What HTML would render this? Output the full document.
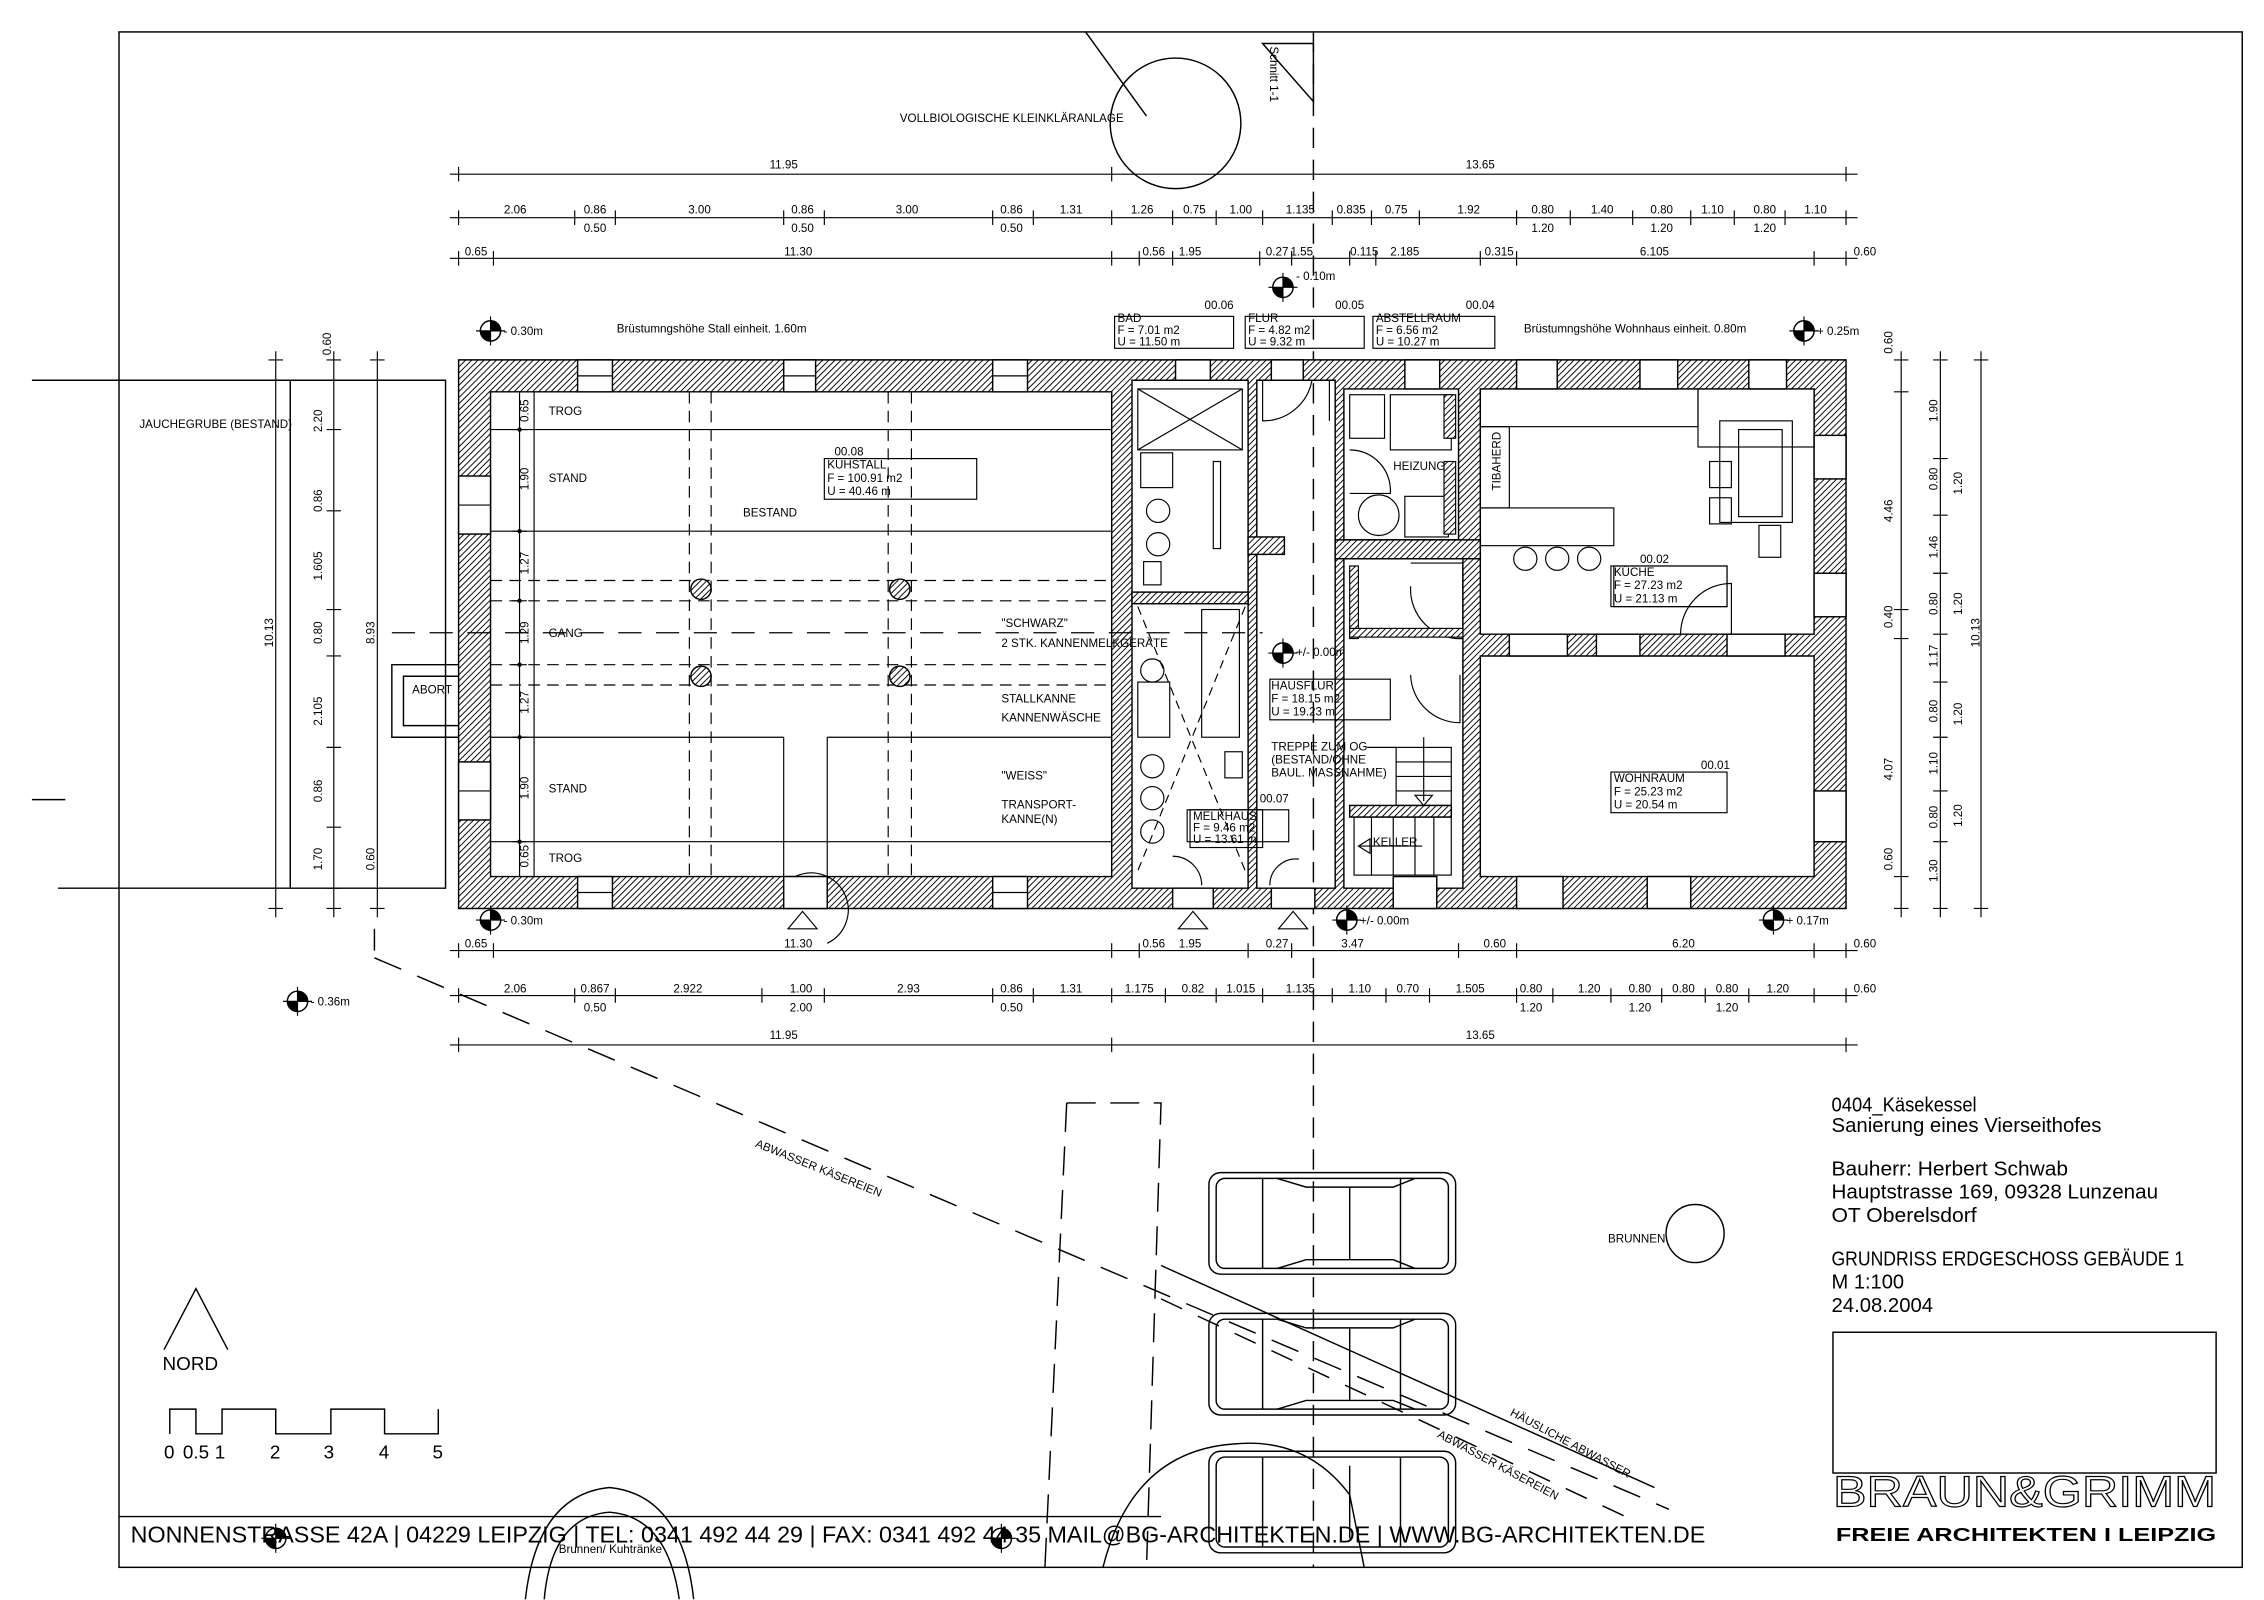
<!DOCTYPE html>
<html><head><meta charset="utf-8"><style>
html,body{margin:0;padding:0;background:#fff}
svg{display:block}
text{font-family:"Liberation Sans",sans-serif;fill:#000}
</style></head><body>
<svg width="2264" height="1600" viewBox="0 0 1560 1102.5" preserveAspectRatio="none" xmlns="http://www.w3.org/2000/svg">
<defs>
<pattern id="h" width="3" height="3" patternUnits="userSpaceOnUse" patternTransform="rotate(45)">
<rect width="3" height="3" fill="#fff"/><line x1="0" y1="0" x2="0" y2="3" stroke="#000" stroke-width="1.3"/></pattern>
<g id="lv"><circle r="7" fill="#fff" stroke="#000" stroke-width="1"/><path d="M0,0 L7,0 A7,7 0 0 0 0,-7Z M0,0 L-7,0 A7,7 0 0 0 0,7Z" fill="#000"/><line x1="-10" y1="0" x2="10" y2="0" stroke="#000" stroke-width=".8"/><line x1="0" y1="-10" x2="0" y2="10" stroke="#000" stroke-width=".8"/></g>
</defs>
<rect width="1560" height="1102.5" fill="#fff"/>
<g fill="none" stroke="#000" stroke-width="1">
<rect x="82" y="22" width="1463" height="1058"/>
<line x1="905" y1="22" x2="905" y2="1080" stroke-dasharray="14,8"/>
<path d="M870,30 L905,30 L905,70 Z" />
<line x1="748" y1="22" x2="790" y2="80"/>
<circle cx="810" cy="85" r="45"/>
<polyline points="22,262 307,262 307,612 40,612"/>
<line x1="200" y1="262" x2="200" y2="612"/>
<line x1="22" y1="551" x2="45" y2="551"/>
<polyline points="316,458 270,458 270,508 316,508"/>
<polyline points="316,466 278,466 278,500 316,500"/>
<line x1="258" y1="660" x2="1150" y2="1040" stroke-dasharray="20,12"/>
<line x1="800" y1="872" x2="1140" y2="1025"/>
<line x1="800" y1="895" x2="1120" y2="1045" stroke-dasharray="16,12"/>
<polyline points="735,760 800,760 790,1080" stroke-dasharray="20,10"/>
<line x1="735" y1="760" x2="720" y2="1080" stroke-dasharray="20,10"/>
<line x1="258" y1="655" x2="258" y2="640"/>
</g>
<g stroke="#000" stroke-width="1">
<path fill-rule="evenodd" fill="url(#h)" d="M316,248 H1272 V626 H316 Z M338,270 V604 H766 V270 Z M780,262 V612 H860 V262 Z M866,262 V612 H920 V262 Z M926,268 V372 H1005 V268Z M1020,268 V437 H1250 V268 Z M1020,452 V604 H1250 V452Z M926,385 V612 H1008 V385Z"/>
<rect x="780" y="408" width="80" height="8" fill="url(#h)"/>
<rect x="860" y="370" width="25" height="12" fill="url(#h)"/>
<rect x="920" y="372" width="100" height="13" fill="url(#h)"/>
<rect x="930" y="555" width="70" height="8" fill="url(#h)"/>
</g>
<g fill="#fff" stroke="#000" stroke-width="1">
<rect x="398" y="248" width="24" height="22"/><rect x="540" y="248" width="22" height="22"/><rect x="684" y="248" width="24" height="22"/>
<rect x="810" y="248" width="24" height="14"/><rect x="876" y="248" width="22" height="14"/><rect x="968" y="248" width="24" height="20"/>
<rect x="1045" y="248" width="28" height="20"/><rect x="1130" y="248" width="26" height="20"/><rect x="1205" y="248" width="26" height="20"/>
<rect x="398" y="604" width="24" height="22"/><rect x="540" y="604" width="30" height="22"/><rect x="684" y="604" width="24" height="22"/>
<rect x="808" y="612" width="28" height="14"/><rect x="876" y="612" width="30" height="14"/><rect x="960" y="604" width="30" height="22"/>
<rect x="1045" y="604" width="32" height="22"/><rect x="1135" y="604" width="30" height="22"/>
<rect x="316" y="328" width="22" height="40"/><rect x="316" y="525" width="22" height="40"/>
<rect x="1250" y="300" width="22" height="30"/><rect x="1250" y="395" width="22" height="30"/><rect x="1250" y="545" width="22" height="35"/>
<rect x="1040" y="437" width="40" height="15"/><rect x="1100" y="437" width="30" height="15"/><rect x="1190" y="437" width="40" height="15"/>
</g>
<g fill="none" stroke="#000" stroke-width=".8">
<line x1="316" y1="348" x2="338" y2="348"/><line x1="316" y1="545" x2="338" y2="545"/>
<line x1="398" y1="259" x2="422" y2="259"/><line x1="540" y1="259" x2="562" y2="259"/><line x1="684" y1="259" x2="708" y2="259"/>
<line x1="398" y1="615" x2="422" y2="615"/><line x1="684" y1="615" x2="708" y2="615"/>
<line x1="368" y1="270" x2="368" y2="604"/>
<line x1="338" y1="296" x2="766" y2="296"/><line x1="338" y1="366" x2="766" y2="366"/>
<line x1="338" y1="508" x2="540" y2="508"/><line x1="570" y1="508" x2="766" y2="508"/>
<line x1="338" y1="580" x2="766" y2="580"/>
<line x1="540" y1="508" x2="540" y2="604"/><line x1="570" y1="508" x2="570" y2="604"/>
<g stroke-dasharray="8,5">
<line x1="338" y1="400" x2="766" y2="400"/><line x1="338" y1="414" x2="766" y2="414"/>
<line x1="338" y1="458" x2="766" y2="458"/><line x1="338" y1="472" x2="766" y2="472"/>
<line x1="475" y1="270" x2="475" y2="604"/><line x1="490" y1="270" x2="490" y2="604"/>
<line x1="612" y1="270" x2="612" y2="604"/><line x1="628" y1="270" x2="628" y2="604"/>
<line x1="270" y1="436" x2="870" y2="436" stroke-dasharray="16,10"/>
</g>
<rect x="784" y="268" width="72" height="42"/><line x1="784" y1="268" x2="856" y2="310"/><line x1="856" y1="268" x2="784" y2="310"/>
<rect x="786" y="312" width="22" height="24"/><rect x="836" y="318" width="5" height="60"/>
<ellipse cx="798" cy="352" rx="8" ry="8"/><ellipse cx="798" cy="375" rx="8" ry="8"/><rect x="788" y="387" width="12" height="16"/>
<line x1="784" y1="418" x2="858" y2="600" stroke-dasharray="6,4"/><line x1="858" y1="418" x2="784" y2="600" stroke-dasharray="6,4"/>
<rect x="828" y="420" width="26" height="88"/><rect x="784" y="470" width="22" height="38"/>
<circle cx="794" cy="462" r="8"/><circle cx="794" cy="528" r="8"/><circle cx="794" cy="550" r="8"/><circle cx="794" cy="573" r="8"/>
<rect x="844" y="518" width="12" height="18"/>
<rect x="818" y="558" width="70" height="22"/>
<path d="M808,590 A20,20 0 0 1 828,610"/><path d="M875,610 A18,18 0 0 1 895,592"/>
<path d="M870,262 V290 A34,34 0 0 0 904,262"/><path d="M916,262 V290"/>
<rect x="930" y="272" width="24" height="30"/><rect x="958" y="272" width="42" height="38"/>
<circle cx="950" cy="355" r="14"/><rect x="968" y="342" width="30" height="28"/>
<path d="M930,310 A28,28 0 0 1 958,340 H930"/>
<rect x="995" y="272" width="8" height="30" fill="url(#h)"/><rect x="995" y="318" width="8" height="50" fill="url(#h)"/>
<path d="M972,388 H1008 V440 A34,34 0 0 1 972,404"/>
<rect x="930" y="390" width="6" height="50" fill="url(#h)"/><rect x="930" y="433" width="78" height="6" fill="url(#h)"/>
<path d="M972,465 A34,34 0 0 0 1006,498 V465"/>
<rect x="962" y="515" width="38" height="40"/><line x1="962" y1="525" x2="1000" y2="525"/><line x1="962" y1="535" x2="1000" y2="535"/><line x1="962" y1="545" x2="1000" y2="545"/>
<line x1="981" y1="508" x2="981" y2="552"/><path d="M975,548 L981,555 L987,548Z"/>
<rect x="933" y="563" width="67" height="40"/><line x1="945" y1="563" x2="945" y2="603"/><line x1="960" y1="563" x2="960" y2="603"/><line x1="975" y1="563" x2="975" y2="603"/><line x1="988" y1="563" x2="988" y2="603"/>
<line x1="936" y1="583" x2="980" y2="583"/><path d="M944,578 L936,583 L944,588Z"/>
<line x1="942" y1="515" x2="962" y2="515"/>
<rect x="1020" y="268" width="150" height="26"/><rect x="1020" y="294" width="20" height="56"/><rect x="1020" y="350" width="92" height="26"/>
<rect x="1170" y="268" width="80" height="40"/><rect x="1185" y="290" width="50" height="70"/><rect x="1198" y="296" width="30" height="60"/>
<rect x="1178" y="318" width="15" height="18"/><rect x="1178" y="343" width="15" height="18"/><rect x="1212" y="362" width="15" height="22"/>
<circle cx="1051" cy="385" r="8"/><circle cx="1073" cy="385" r="8"/><circle cx="1095" cy="385" r="8"/>
<path d="M1158,437 A35,35 0 0 1 1193,402 V437"/>
<rect x="1112" y="390" width="78" height="28"/>
<rect x="568" y="316" width="105" height="28"/>
<rect x="875" y="468" width="83" height="28"/>
<rect x="1110" y="390" width="80" height="28"/>
<rect x="1110" y="532" width="80" height="28"/>
<rect x="820" y="558" width="50" height="26"/>
<rect x="768" y="218" width="82" height="22"/><rect x="858" y="218" width="82" height="22"/><rect x="946" y="218" width="84" height="22"/>
</g>
<g fill="url(#h)" stroke="#000" stroke-width="1">
<circle cx="483" cy="406" r="7"/><circle cx="620" cy="406" r="7"/><circle cx="483" cy="466" r="7"/><circle cx="620" cy="466" r="7"/>
</g>
<g stroke="#000" stroke-width=".8" fill="none">
<line x1="310" y1="120" x2="1280" y2="120"/><line x1="310" y1="150" x2="1280" y2="150"/><line x1="310" y1="178" x2="1280" y2="178"/>
<line x1="310" y1="655" x2="1280" y2="655"/><line x1="310" y1="686" x2="1280" y2="686"/><line x1="310" y1="720" x2="1280" y2="720"/>
<line x1="190" y1="242" x2="190" y2="632"/><line x1="230" y1="242" x2="230" y2="632"/><line x1="260" y1="242" x2="260" y2="632"/><line x1="358" y1="270" x2="358" y2="604"/>
<line x1="1310" y1="242" x2="1310" y2="632"/><line x1="1337" y1="242" x2="1337" y2="632"/><line x1="1365" y1="242" x2="1365" y2="632"/>
<path d="M316,115V125M766,115V125M1272,115V125 M316,715V725M766,715V725M1272,715V725"/>
<path d="M316,145V155M396,145V155M424,145V155M540,145V155M568,145V155M684,145V155M712,145V155M766,145V155M808,145V155M838,145V155M870,145V155M918,145V155M945,145V155M978,145V155M1045,145V155M1082,145V155M1125,145V155M1165,145V155M1195,145V155M1230,145V155M1272,145V155"/>
<path d="M316,173V183M340,173V183M766,173V183M785,173V183M808,173V183M868,173V183M890,173V183M930,173V183M948,173V183M1020,173V183M1045,173V183M1250,173V183M1272,173V183"/>
<path d="M316,650V660M340,650V660M766,650V660M785,650V660M860,650V660M890,650V660M1005,650V660M1045,650V660M1250,650V660M1272,650V660"/>
<path d="M316,681V691M396,681V691M424,681V691M525,681V691M568,681V691M684,681V691M712,681V691M766,681V691M803,681V691M838,681V691M870,681V691M918,681V691M955,681V691M985,681V691M1045,681V691M1070,681V691M1110,681V691M1145,681V691M1175,681V691M1205,681V691M1250,681V691M1272,681V691"/>
<path d="M185,248H195M185,626H195M255,248H265M255,626H265M225,248H235M225,262H235M225,296H235M225,352H235M225,420H235M225,452H235M225,515H235M225,570H235M225,612H235M225,626H235"/>
<path d="M353,296H363M353,366H363M353,414H363M353,458H363M353,508H363M353,580H363"/>
<path d="M1305,248H1315M1305,270H1315M1305,420H1315M1305,440H1315M1305,604H1315M1305,626H1315M1332,248H1342M1332,316H1342M1332,355H1342M1332,395H1342M1332,437H1342M1332,470H1342M1332,508H1342M1332,545H1342M1332,580H1342M1332,626H1342M1360,248H1370M1360,626H1370"/>
</g>
<g fill="#000">
<circle cx="358" cy="296" r="1.5"/><circle cx="358" cy="366" r="1.5"/><circle cx="358" cy="414" r="1.5"/><circle cx="358" cy="458" r="1.5"/><circle cx="358" cy="508" r="1.5"/><circle cx="358" cy="580" r="1.5"/>
</g>
<use href="#lv" x="338" y="228"/><use href="#lv" x="1243" y="228"/><use href="#lv" x="338" y="634"/><use href="#lv" x="928" y="634"/><use href="#lv" x="1222" y="634"/>
<use href="#lv" x="205" y="690"/><use href="#lv" x="884" y="198"/><use href="#lv" x="884" y="450"/><use href="#lv" x="190" y="1060"/><use href="#lv" x="690" y="1060"/>
<g fill="none" stroke="#000" stroke-width=".8">
<path d="M543,640 L553,628 L563,640Z"/><path d="M812,640 L822,628 L832,640Z"/><path d="M881,640 L891,628 L901,640Z"/>
<path d="M548,604 A25,25 0 0 1 570,650"/>
</g>
<g fill="none" stroke="#000" stroke-width="1">
<rect x="833" y="808" width="170" height="70" rx="8"/><rect x="838" y="812" width="160" height="62" rx="6"/><path d="M870,812 V874 M930,818 V868 M965,812 V874 M880,812 L900,818 H960 L975,812 M880,874 L900,868 H960 L975,874"/>
<rect x="833" y="905" width="170" height="70" rx="8"/><rect x="838" y="909" width="160" height="62" rx="6"/><path d="M870,909 V971 M930,915 V965 M965,909 V971 M880,909 L900,915 H960 L975,909 M880,971 L900,965 H960 L975,971"/>
<rect x="833" y="1000" width="170" height="70" rx="8"/><rect x="838" y="1004" width="160" height="62" rx="6"/><path d="M870,1004 V1066 M930,1010 V1060 M965,1004 V1066"/>
<path d="M760,1080 Q780,1000 850,995 Q900,990 930,1030 L940,1080"/>
<circle cx="1168" cy="850" r="20"/>
<path d="M362,1102 Q370,1030 420,1025 Q470,1030 478,1102"/><path d="M375,1102 Q380,1045 420,1042 Q460,1045 468,1102"/>
<path d="M113,930 L135,888 L157,930"/>
<polyline points="117,988 117,971 135,971 135,988 153,988 153,971 190,971 190,988 228,988 228,971 265,971 265,988 302,988 302,971"/>
<line x1="82" y1="1045" x2="800" y2="1045"/>
<rect x="1263" y="918" width="264" height="97"/>
</g>
<g font-size="8">
<text x="620" y="84">VOLLBIOLOGISCHE KLEINKLÄRANLAGE</text>
<text x="425" y="229">Brüstumngshöhe Stall einheit. 1.60m</text>
<text x="1050" y="229">Brüstumngshöhe Wohnhaus einheit. 0.80m</text>
<text x="347" y="231">- 0.30m</text><text x="1252" y="231">+ 0.25m</text><text x="347" y="637">- 0.30m</text><text x="937" y="637">+/- 0.00m</text><text x="1231" y="637">+ 0.17m</text>
<text x="214" y="693">- 0.36m</text><text x="893" y="193">- 0.10m</text><text x="893" y="452">+/- 0.00m</text>
<text x="96" y="295">JAUCHEGRUBE (BESTAND)</text>
<text x="284" y="478">ABORT</text>
<text x="378" y="286">TROG</text><text x="378" y="332">STAND</text><text x="378" y="439">GANG</text><text x="378" y="546">STAND</text><text x="378" y="594">TROG</text>
<text x="575" y="314">00.08</text><text x="570" y="323">KUHSTALL</text><text x="570" y="332">F = 100.91 m2</text><text x="570" y="341">U = 40.46 m</text><text x="512" y="356">BESTAND</text>
<text x="690" y="432">"SCHWARZ"</text><text x="690" y="446">2 STK. KANNENMELKGERÄTE</text>
<text x="690" y="484">STALLKANNE</text><text x="690" y="497">KANNENWÄSCHE</text>
<text x="690" y="537">"WEISS"</text><text x="690" y="557">TRANSPORT-</text><text x="690" y="567">KANNE(N)</text>
<text x="868" y="553">00.07</text><text x="822" y="565">MELKHAUS</text><text x="822" y="573">F = 9.46 m2</text><text x="822" y="581">U = 13.61 m</text>
<text x="876" y="475">HAUSFLUR</text><text x="876" y="484">F = 18.15 m2</text><text x="876" y="493">U = 19.23 m</text>
<text x="876" y="517">TREPPE ZUM OG</text><text x="876" y="526">(BESTAND/OHNE</text><text x="876" y="535">BAUL. MASSNAHME)</text>
<text x="946" y="583">KELLER</text><text x="960" y="324">HEIZUNG</text>
<text x="1130" y="388">00.02</text><text x="1112" y="397">KÜCHE</text><text x="1112" y="406">F = 27.23 m2</text><text x="1112" y="415">U = 21.13 m</text>
<text x="1172" y="530">00.01</text><text x="1112" y="539">WOHNRAUM</text><text x="1112" y="548">F = 25.23 m2</text><text x="1112" y="557">U = 20.54 m</text>
<text x="830" y="213">00.06</text><text x="920" y="213">00.05</text><text x="1010" y="213">00.04</text>
<text x="770" y="222">BAD</text><text x="770" y="230">F = 7.01 m2</text><text x="770" y="238">U = 11.50 m</text>
<text x="860" y="222">FLUR</text><text x="860" y="230">F = 4.82 m2</text><text x="860" y="238">U = 9.32 m</text>
<text x="948" y="222">ABSTELLRAUM</text><text x="948" y="230">F = 6.56 m2</text><text x="948" y="238">U = 10.27 m</text>
<text x="1108" y="856">BRUNNEN</text>
<text x="385" y="1070">Brunnen/ Kuhtränke</text>
<text transform="translate(1034,338) rotate(-90)">TIBAHERD</text>
<text transform="translate(875,32) rotate(90)">Schnitt 1-1</text>
<text transform="translate(520,790) rotate(22)">ABWASSER KÄSEREIEN</text>
<text transform="translate(1040,975) rotate(28)">HÄUSLICHE ABWASSER</text>
<text transform="translate(990,990) rotate(28)">ABWASSER KÄSEREIEN</text>
</g>
<g font-size="8" text-anchor="middle">
<text x="540" y="116">11.95</text><text x="1020" y="116">13.65</text><text x="540" y="716">11.95</text><text x="1020" y="716">13.65</text>
<text x="355" y="147">2.06</text><text x="410" y="147">0.86</text><text x="410" y="160">0.50</text><text x="482" y="147">3.00</text><text x="553" y="147">0.86</text><text x="553" y="160">0.50</text><text x="625" y="147">3.00</text><text x="697" y="147">0.86</text><text x="697" y="160">0.50</text><text x="738" y="147">1.31</text><text x="787" y="147">1.26</text><text x="823" y="147">0.75</text><text x="855" y="147">1.00</text><text x="896" y="147">1.135</text><text x="931" y="147">0.835</text><text x="962" y="147">0.75</text><text x="1012" y="147">1.92</text><text x="1063" y="147">0.80</text><text x="1063" y="160">1.20</text><text x="1104" y="147">1.40</text><text x="1145" y="147">0.80</text><text x="1145" y="160">1.20</text><text x="1180" y="147">1.10</text><text x="1216" y="147">0.80</text><text x="1216" y="160">1.20</text><text x="1251" y="147">1.10</text>
<text x="328" y="176">0.65</text><text x="550" y="176">11.30</text><text x="795" y="176">0.56</text><text x="820" y="176">1.95</text><text x="880" y="176">0.27</text><text x="897" y="176">1.55</text><text x="940" y="176">0.115</text><text x="968" y="176">2.185</text><text x="1033" y="176">0.315</text><text x="1140" y="176">6.105</text><text x="1285" y="176">0.60</text>
<text x="328" y="653">0.65</text><text x="550" y="653">11.30</text><text x="795" y="653">0.56</text><text x="820" y="653">1.95</text><text x="880" y="653">0.27</text><text x="932" y="653">3.47</text><text x="1030" y="653">0.60</text><text x="1160" y="653">6.20</text><text x="1285" y="653">0.60</text>
<text x="355" y="684">2.06</text><text x="410" y="684">0.867</text><text x="410" y="697">0.50</text><text x="474" y="684">2.922</text><text x="552" y="684">1.00</text><text x="552" y="697">2.00</text><text x="626" y="684">2.93</text><text x="697" y="684">0.86</text><text x="697" y="697">0.50</text><text x="738" y="684">1.31</text><text x="785" y="684">1.175</text><text x="822" y="684">0.82</text><text x="855" y="684">1.015</text><text x="896" y="684">1.135</text><text x="937" y="684">1.10</text><text x="970" y="684">0.70</text><text x="1013" y="684">1.505</text><text x="1055" y="684">0.80</text><text x="1055" y="697">1.20</text><text x="1095" y="684">1.20</text><text x="1130" y="684">0.80</text><text x="1130" y="697">1.20</text><text x="1160" y="684">0.80</text><text x="1190" y="684">0.80</text><text x="1190" y="697">1.20</text><text x="1225" y="684">1.20</text><text x="1285" y="684">0.60</text>
</g>
<g font-size="8" text-anchor="middle">
<text transform="translate(188,436) rotate(-90)">10.13</text><text transform="translate(258,436) rotate(-90)">8.93</text>
<text transform="translate(228,237) rotate(-90)">0.60</text><text transform="translate(222,290) rotate(-90)">2.20</text><text transform="translate(222,345) rotate(-90)">0.86</text><text transform="translate(222,390) rotate(-90)">1.605</text><text transform="translate(222,436) rotate(-90)">0.80</text><text transform="translate(222,490) rotate(-90)">2.105</text><text transform="translate(222,545) rotate(-90)">0.86</text><text transform="translate(222,592) rotate(-90)">1.70</text><text transform="translate(258,592) rotate(-90)">0.60</text>
<text transform="translate(364,283) rotate(-90)">0.65</text><text transform="translate(364,330) rotate(-90)">1.90</text><text transform="translate(364,388) rotate(-90)">1.27</text><text transform="translate(364,436) rotate(-90)">1.29</text><text transform="translate(364,484) rotate(-90)">1.27</text><text transform="translate(364,543) rotate(-90)">1.90</text><text transform="translate(364,590) rotate(-90)">0.65</text>
<text transform="translate(1304,236) rotate(-90)">0.60</text><text transform="translate(1304,352) rotate(-90)">4.46</text><text transform="translate(1304,425) rotate(-90)">0.40</text><text transform="translate(1304,530) rotate(-90)">4.07</text><text transform="translate(1304,592) rotate(-90)">0.60</text>
<text transform="translate(1335,283) rotate(-90)">1.90</text><text transform="translate(1335,330) rotate(-90)">0.80</text><text transform="translate(1352,333) rotate(-90)">1.20</text><text transform="translate(1335,377) rotate(-90)">1.46</text><text transform="translate(1352,416) rotate(-90)">1.20</text><text transform="translate(1335,416) rotate(-90)">0.80</text><text transform="translate(1335,452) rotate(-90)">1.17</text><text transform="translate(1335,490) rotate(-90)">0.80</text><text transform="translate(1352,492) rotate(-90)">1.20</text><text transform="translate(1335,526) rotate(-90)">1.10</text><text transform="translate(1335,563) rotate(-90)">0.80</text><text transform="translate(1352,562) rotate(-90)">1.20</text><text transform="translate(1335,600) rotate(-90)">1.30</text>
<text transform="translate(1364,436) rotate(-90)">10.13</text>
</g>
<g font-size="13">
<text x="112" y="944">NORD</text>
<text x="113" y="1005">0</text><text x="126" y="1005">0.5</text><text x="148" y="1005">1</text><text x="186" y="1005">2</text><text x="223" y="1005">3</text><text x="261" y="1005">4</text><text x="298" y="1005">5</text>
</g>
<g font-size="14" lengthAdjust="spacingAndGlyphs">
<text x="1262" y="766" textLength="100" lengthAdjust="spacingAndGlyphs">0404_Käsekessel</text><text x="1262" y="780" textLength="186" lengthAdjust="spacingAndGlyphs">Sanierung eines Vierseithofes</text>
<text x="1262" y="810" textLength="163" lengthAdjust="spacingAndGlyphs">Bauherr: Herbert Schwab</text><text x="1262" y="826" textLength="225" lengthAdjust="spacingAndGlyphs">Hauptstrasse 169, 09328 Lunzenau</text><text x="1262" y="842" textLength="100" lengthAdjust="spacingAndGlyphs">OT Oberelsdorf</text>
<text x="1262" y="872" textLength="243" lengthAdjust="spacingAndGlyphs">GRUNDRISS ERDGESCHOSS GEBÄUDE 1</text><text x="1262" y="888" textLength="50" lengthAdjust="spacingAndGlyphs">M 1:100</text><text x="1262" y="904" textLength="70" lengthAdjust="spacingAndGlyphs">24.08.2004</text>
</g>
<text x="90" y="1063" font-size="16" textLength="1085" lengthAdjust="spacingAndGlyphs">NONNENSTRASSE 42A | 04229 LEIPZIG | TEL: 0341 492 44 29 | FAX: 0341 492 44 35 MAIL@BG-ARCHITEKTEN.DE | WWW.BG-ARCHITEKTEN.DE</text>
<text x="1263" y="1038" font-size="30" stroke="#000" stroke-width=".8" textLength="264" lengthAdjust="spacingAndGlyphs" style="fill:#fff">BRAUN&amp;GRIMM</text>
<text x="1265" y="1062" font-size="13" font-weight="bold" textLength="262" lengthAdjust="spacingAndGlyphs">FREIE ARCHITEKTEN I LEIPZIG</text>
</svg>
</body></html>
